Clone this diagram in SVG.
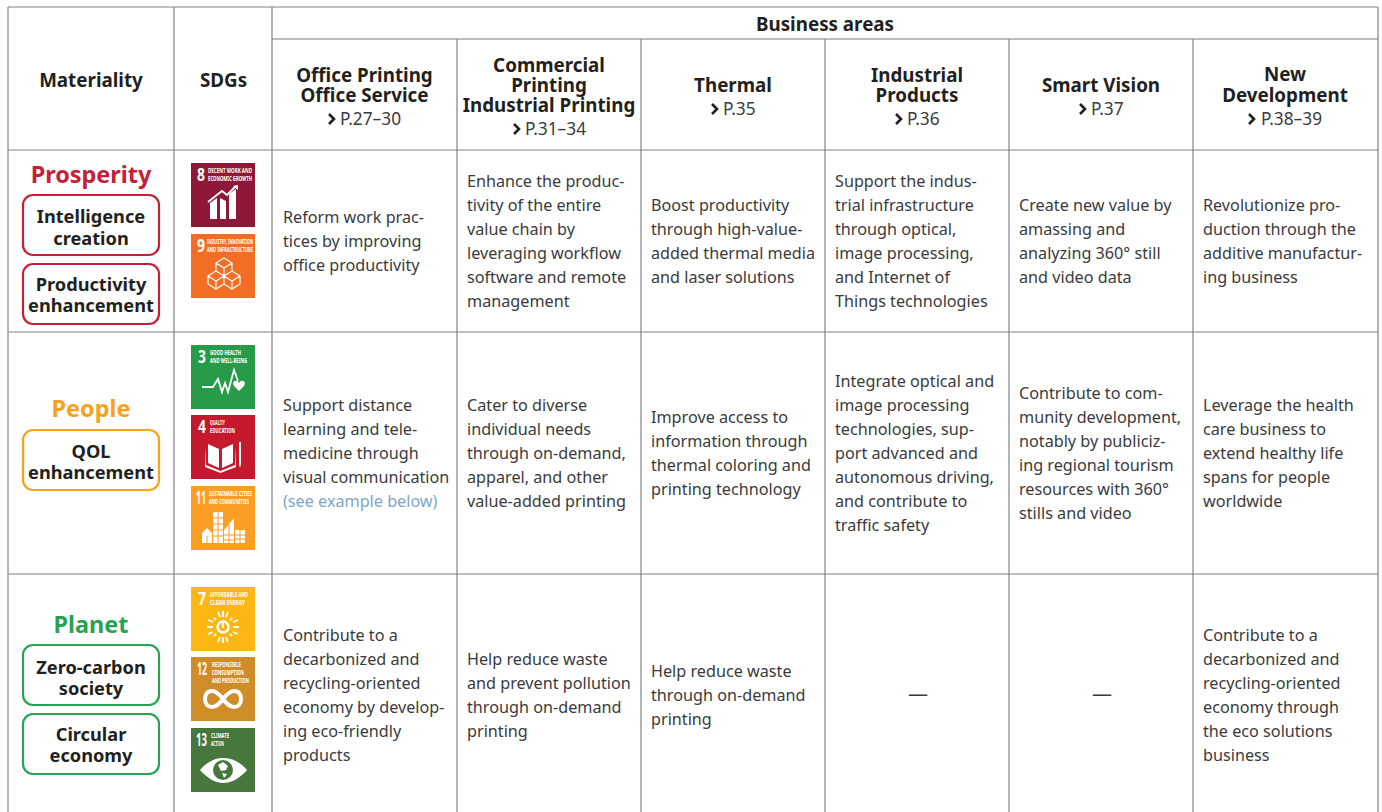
<svg xmlns="http://www.w3.org/2000/svg" width="1382" height="812" viewBox="0 0 1382 812">
<style>
text{font-family:"Noto Sans","Open Sans","Liberation Sans",sans-serif;fill:#231f20}
.g{stroke:#a7a9ac;stroke-width:1.7;fill:none}
.d{stroke:#808285;stroke-width:1.2;fill:none}
.h{font-size:18.8px;font-weight:700;text-anchor:middle}
.p{font-size:17.3px;fill:#3a3a3c}
.b{font-size:16.2px;fill:#3a3a3c}
.mh{font-size:23.4px;font-weight:700;text-anchor:middle}
.m{font-size:18.2px;font-weight:700;text-anchor:middle}
.n{font-size:17px;font-weight:700;fill:#fff}
.s{font-size:6.6px;font-weight:700;fill:#fff}
.w{fill:#fff;stroke:none}
.wl{fill:none;stroke:#fff;stroke-width:1.8}
.c{fill:none;stroke:#231f20;stroke-width:2.6}
</style>
<rect width="1382" height="812" fill="#fff"/>
<g id="connectors">
<path class="g" d="M8 7V812M272 39H1378M8 332H1378M8 574H1378"/>
<path class="d" d="M8 7H1378M174 7V812M272 7V812M457 39V812M641 39V812M825 39V812M1009 39V812M1193 39V812M1378 7V812M8 150H1378"/>
</g>
<g id="header">
<text class="h" x="91" y="87">Materiality</text>
<text class="h" x="223.500" y="87">SDGs</text>
<text class="h" x="825" y="31">Business areas</text>
<text class="h" x="364.500" y="82">Office Printing</text><text class="h" x="364.500" y="102">Office Service</text>
<path class="c" d="M329 114L334 119L329 124"/><text class="p" x="340" y="125">P.27–30</text>
<text class="h" x="549" y="72">Commercial</text><text class="h" x="549" y="92">Printing</text><text class="h" x="549" y="112">Industrial Printing</text>
<path class="c" d="M514 124L519 129L514 134"/><text class="p" x="525" y="135">P.31–34</text>
<text class="h" x="733" y="92">Thermal</text>
<path class="c" d="M712 104L717 109L712 114"/><text class="p" x="723" y="115">P.35</text>
<text class="h" x="917" y="82">Industrial</text><text class="h" x="917" y="102">Products</text>
<path class="c" d="M896 114L901 119L896 124"/><text class="p" x="907" y="125">P.36</text>
<text class="h" x="1101" y="92">Smart Vision</text>
<path class="c" d="M1080 104L1085 109L1080 114"/><text class="p" x="1091" y="115">P.37</text>
<text class="h" x="1285" y="81">New</text><text class="h" x="1285" y="102">Development</text>
<path class="c" d="M1249 114L1254 119L1249 124"/><text class="p" x="1261" y="125">P.38–39</text>
</g>
<g id="prosperity">
<text class="mh" x="91" y="183" style="fill:#c4203a">Prosperity</text>
<rect x="23" y="195" width="136" height="60" rx="10" fill="#fff" stroke="#c4203a" stroke-width="2.2"/>
<text class="m" x="91" y="223">Intelligence</text><text class="m" x="91" y="245">creation</text>
<rect x="23" y="264" width="136" height="60" rx="10" fill="#fff" stroke="#c4203a" stroke-width="2.2"/>
<text class="m" x="91" y="291">Productivity</text><text class="m" x="91" y="312">enhancement</text>
</g>
<g id="people">
<text class="mh" x="91" y="417" style="fill:#f9a11b">People</text>
<rect x="23" y="430" width="136" height="60" rx="10" fill="#fff" stroke="#f9a11b" stroke-width="2.2"/>
<text class="m" x="91" y="458">QOL</text><text class="m" x="91" y="479">enhancement</text>
</g>
<g id="planet">
<text class="mh" x="91" y="633" style="fill:#25a34f">Planet</text>
<rect x="23" y="645" width="136" height="60" rx="10" fill="#fff" stroke="#25a34f" stroke-width="2.2"/>
<text class="m" x="91" y="674">Zero-carbon</text><text class="m" x="91" y="695">society</text>
<rect x="23" y="714" width="136" height="60" rx="10" fill="#fff" stroke="#25a34f" stroke-width="2.2"/>
<text class="m" x="91" y="741">Circular</text><text class="m" x="91" y="762">economy</text>
</g>
<g id="sdg8"><rect x="191" y="163" width="64" height="64" fill="#8f1838"/><text class="n" x="197" y="181" textLength="8" lengthAdjust="spacingAndGlyphs">8</text><text class="s" x="208" y="173" textLength="44" lengthAdjust="spacingAndGlyphs">DECENT WORK AND</text><text class="s" x="208" y="181" textLength="44" lengthAdjust="spacingAndGlyphs">ECONOMIC GROWTH</text><path class="w" d="M210 219V203L217 198V219ZM220 219V198L226 201V219ZM229 219V194L236 189V219Z"/><path class="wl" d="M208 202L222 191L227 195L236 186"/><path class="w" d="M233 186L238 185L238 190Z"/></g>
<g id="sdg9"><rect x="191" y="234" width="64" height="64" fill="#f36d25"/><text class="n" x="197" y="252" textLength="8" lengthAdjust="spacingAndGlyphs">9</text><text class="s" x="207" y="244" textLength="46" lengthAdjust="spacingAndGlyphs">INDUSTRY, INNOVATION</text><text class="s" x="207" y="252" textLength="46" lengthAdjust="spacingAndGlyphs">AND INFRASTRUCTURE</text><path fill="none" stroke="#fff" stroke-width="1.2" d="M224 258L232 263V271L224 276L216 271V263ZM216 263L224 268L232 263M224 268V276M216 271L224 276V284L216 289L208 284V276ZM208 276L216 281L224 276M216 281V289M232 271L240 276V284L232 289L224 284V276ZM224 276L232 281L240 276M232 281V289"/></g>
<g id="sdg3"><rect x="191" y="345" width="64" height="64" fill="#279b48"/><text class="n" x="198" y="363" textLength="8" lengthAdjust="spacingAndGlyphs">3</text><text class="s" x="210" y="355" textLength="31" lengthAdjust="spacingAndGlyphs">GOOD HEALTH</text><text class="s" x="210" y="363" textLength="37" lengthAdjust="spacingAndGlyphs">AND WELL-BEING</text><path class="wl" stroke-width="1.5" d="M202 387H213L218 379L222 392L225 383L228 392L234 370L238 381"/><path class="w" d="M239 391L234 386C231 381 237 379 239 383C241 379 247 381 244 386Z"/></g>
<g id="sdg4"><rect x="191" y="415" width="64" height="64" fill="#c5192d"/><text class="n" x="198" y="433" textLength="8" lengthAdjust="spacingAndGlyphs">4</text><text class="s" x="210" y="425" textLength="15" lengthAdjust="spacingAndGlyphs">QUALITY</text><text class="s" x="210" y="433" textLength="25" lengthAdjust="spacingAndGlyphs">EDUCATION</text><path class="w" d="M208 444L219 449V468L208 463ZM222 449L233 444V463L222 468ZM206 447V465L220.500 471L235 465V447L236 467L220.500 473L205 467ZM239 442H241V464L240 468L239 464Z"/></g>
<g id="sdg11"><rect x="191" y="486" width="64" height="64" fill="#fd9d24"/><text class="n" x="196" y="504" textLength="10" lengthAdjust="spacingAndGlyphs">11</text><text class="s" x="209" y="496" textLength="43" lengthAdjust="spacingAndGlyphs">SUSTAINABLE CITIES</text><text class="s" x="209" y="504" textLength="40" lengthAdjust="spacingAndGlyphs">AND COMMUNITIES</text><path class="w" d="M202 543V533L207 528L212 533V543ZM213 543V512H223V543ZM224 543V530L234 518V543ZM235 543V530H245V543Z"/><path stroke="#fd9d24" stroke-width="1" fill="none" d="M213 518H223M213 524H223M213 530H223M213 536H223M218 512V543M224 535H234M224 540H234M229 524V543M235 535H245M235 539H245M240 530V543M207 536V543"/></g>
<g id="sdg7"><rect x="191" y="587" width="64" height="64" fill="#fdb713"/><text class="n" x="198" y="605" textLength="8" lengthAdjust="spacingAndGlyphs">7</text><text class="s" x="210" y="597" textLength="38" lengthAdjust="spacingAndGlyphs">AFFORDABLE AND</text><text class="s" x="210" y="605" textLength="35" lengthAdjust="spacingAndGlyphs">CLEAN ENERGY</text><circle cx="223" cy="627" r="5.500" fill="none" stroke="#fff" stroke-width="2.4"/><path class="wl" d="M223 623V628M223 611V617M223 637V643M207 627H213M233 627H239M214 618L216 620M232 618L230 620M214 636L216 634M232 636L230 634M218 612L220 617M228 612L226 617M218 642L220 637M228 642L226 637M208 620L213 622M238 620L233 622M208 634L213 632M238 634L233 632"/></g>
<g id="sdg12"><rect x="191" y="657" width="64" height="64" fill="#cf8d2a"/><text class="n" x="197" y="675" textLength="10" lengthAdjust="spacingAndGlyphs">12</text><text class="s" x="212" y="667" textLength="29" lengthAdjust="spacingAndGlyphs">RESPONSIBLE</text><text class="s" x="212" y="675" textLength="32" lengthAdjust="spacingAndGlyphs">CONSUMPTION</text><text class="s" x="212" y="683" textLength="37" lengthAdjust="spacingAndGlyphs">AND PRODUCTION</text><path fill="none" stroke="#fff" stroke-width="4" d="M223 699C219 694 216 691 212 691C207 691 205 695 205 699C205 704 208 707 212 707C217 707 220 703 223 699C227 694 230 691 234 691C239 691 241 695 241 699C241 704 238 707 234 707C229 707 226 703 223 699"/></g>
<g id="sdg13"><rect x="191" y="728" width="64" height="64" fill="#48773e"/><text class="n" x="196" y="746" textLength="11" lengthAdjust="spacingAndGlyphs">13</text><text class="s" x="211" y="738" textLength="18" lengthAdjust="spacingAndGlyphs">CLIMATE</text><text class="s" x="211" y="746" textLength="13" lengthAdjust="spacingAndGlyphs">ACTION</text><path class="w" d="M200 770C208 761 216 758 223 758C231 758 239 761 247 770C239 779 231 783 223 783C216 783 208 779 200 770Z"/><circle cx="223" cy="770" r="10" fill="#48773e"/><path class="w" d="M218 765L223 762L228 766L226 770L221 771ZM222 773L227 774L224 778Z"/></g>
<g id="cells">
<text class="b"><tspan x="283" y="223">Reform work prac-</tspan><tspan x="283" y="247">tices by improving</tspan><tspan x="283" y="271">office productivity</tspan></text>
<text class="b"><tspan x="467" y="187">Enhance the produc-</tspan><tspan x="467" y="211">tivity of the entire</tspan><tspan x="467" y="235">value chain by</tspan><tspan x="467" y="259">leveraging workflow</tspan><tspan x="467" y="283">software and remote</tspan><tspan x="467" y="307">management</tspan></text>
<text class="b"><tspan x="651" y="211">Boost productivity</tspan><tspan x="651" y="235">through high-value-</tspan><tspan x="651" y="259">added thermal media</tspan><tspan x="651" y="283">and laser solutions</tspan></text>
<text class="b"><tspan x="835" y="187">Support the indus-</tspan><tspan x="835" y="211">trial infrastructure</tspan><tspan x="835" y="235">through optical,</tspan><tspan x="835" y="259">image processing,</tspan><tspan x="835" y="283">and Internet of</tspan><tspan x="835" y="307">Things technologies</tspan></text>
<text class="b"><tspan x="1019" y="211">Create new value by</tspan><tspan x="1019" y="235">amassing and</tspan><tspan x="1019" y="259">analyzing 360° still</tspan><tspan x="1019" y="283">and video data</tspan></text>
<text class="b"><tspan x="1203" y="211">Revolutionize pro-</tspan><tspan x="1203" y="235">duction through the</tspan><tspan x="1203" y="259">additive manufactur-</tspan><tspan x="1203" y="283">ing business</tspan></text>
<text class="b"><tspan x="283" y="411">Support distance</tspan><tspan x="283" y="435">learning and tele-</tspan><tspan x="283" y="459">medicine through</tspan><tspan x="283" y="483">visual communication</tspan><tspan x="283" y="507" style="fill:#7ba7c9">(see example below)</tspan></text>
<text class="b"><tspan x="467" y="411">Cater to diverse</tspan><tspan x="467" y="435">individual needs</tspan><tspan x="467" y="459">through on-demand,</tspan><tspan x="467" y="483">apparel, and other</tspan><tspan x="467" y="507">value-added printing</tspan></text>
<text class="b"><tspan x="651" y="423">Improve access to</tspan><tspan x="651" y="447">information through</tspan><tspan x="651" y="471">thermal coloring and</tspan><tspan x="651" y="495">printing technology</tspan></text>
<text class="b"><tspan x="835" y="387">Integrate optical and</tspan><tspan x="835" y="411">image processing</tspan><tspan x="835" y="435">technologies, sup-</tspan><tspan x="835" y="459">port advanced and</tspan><tspan x="835" y="483">autonomous driving,</tspan><tspan x="835" y="507">and contribute to</tspan><tspan x="835" y="531">traffic safety</tspan></text>
<text class="b"><tspan x="1019" y="399">Contribute to com-</tspan><tspan x="1019" y="423">munity development,</tspan><tspan x="1019" y="447">notably by publiciz-</tspan><tspan x="1019" y="471">ing regional tourism</tspan><tspan x="1019" y="495">resources with 360°</tspan><tspan x="1019" y="519">stills and video</tspan></text>
<text class="b"><tspan x="1203" y="411">Leverage the health</tspan><tspan x="1203" y="435">care business to</tspan><tspan x="1203" y="459">extend healthy life</tspan><tspan x="1203" y="483">spans for people</tspan><tspan x="1203" y="507">worldwide</tspan></text>
<text class="b"><tspan x="283" y="641">Contribute to a</tspan><tspan x="283" y="665">decarbonized and</tspan><tspan x="283" y="689">recycling-oriented</tspan><tspan x="283" y="713">economy by develop-</tspan><tspan x="283" y="737">ing eco-friendly</tspan><tspan x="283" y="761">products</tspan></text>
<text class="b"><tspan x="467" y="665">Help reduce waste</tspan><tspan x="467" y="689">and prevent pollution</tspan><tspan x="467" y="713">through on-demand</tspan><tspan x="467" y="737">printing</tspan></text>
<text class="b"><tspan x="651" y="677">Help reduce waste</tspan><tspan x="651" y="701">through on-demand</tspan><tspan x="651" y="725">printing</tspan></text>
<text class="b" x="908" y="701" style="font-size:20px">—</text>
<text class="b" x="1092" y="701" style="font-size:20px">—</text>
<text class="b"><tspan x="1203" y="641">Contribute to a</tspan><tspan x="1203" y="665">decarbonized and</tspan><tspan x="1203" y="689">recycling-oriented</tspan><tspan x="1203" y="713">economy through</tspan><tspan x="1203" y="737">the eco solutions</tspan><tspan x="1203" y="761">business</tspan></text>
</g>
</svg>
